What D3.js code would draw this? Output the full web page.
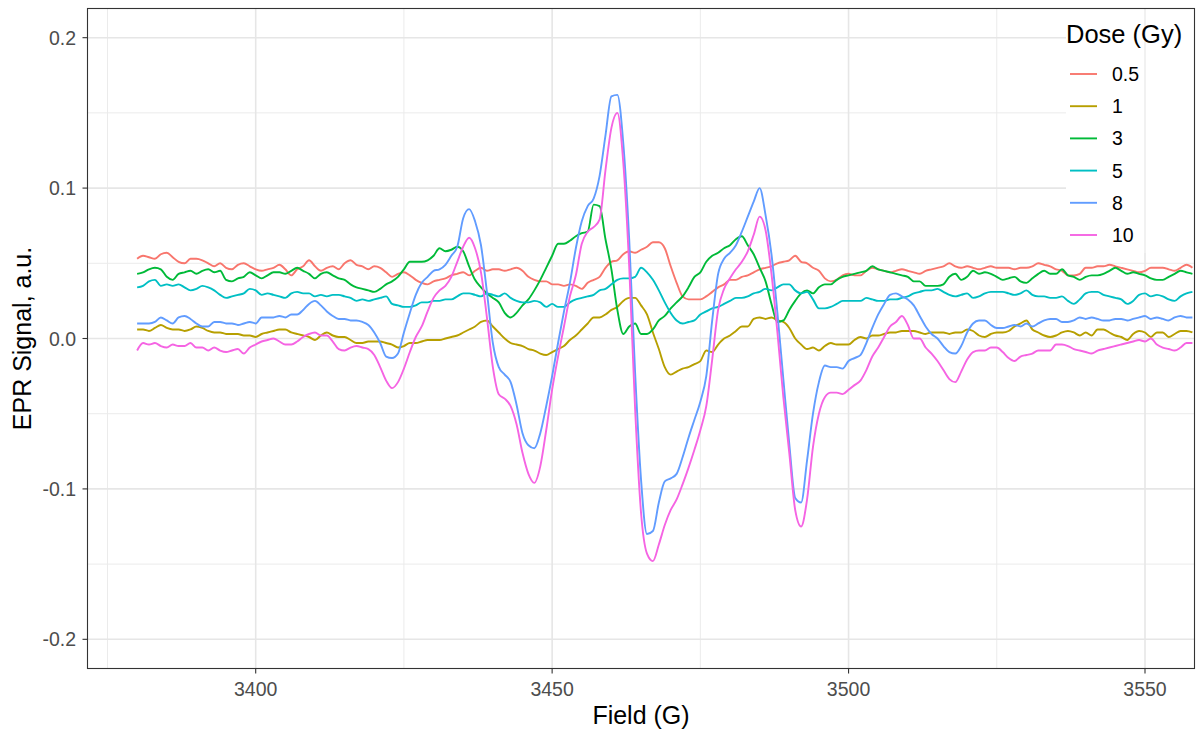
<!DOCTYPE html>
<html>
<head>
<meta charset="utf-8">
<script src="https://cdn.jsdelivr.net/npm/d3@7"></script>
<style>
  body { margin: 0; background: #fff; }
  text { font-family: "Liberation Sans", Arial, Helvetica, sans-serif; }
</style>
</head>
<body>
<svg id="chart" width="1198" height="729"></svg>
<script>
const width = 1198;
const height = 729;

// field grid, 1 G steps
const field = d3.range(3380, 3559);

// EPR signal per dose
const dose05 = [
  .053,.055,.054,.053,.056,.057,.054,.051,.050,.053,
  .053,.052,.050,.048,.050,.047,.046,.049,.050,.048,
  .046,.045,.046,.047,.049,.046,.042,.046,.048,.052,
  .048,.045,.047,.048,.046,.050,.052,.049,.048,.046,
  .048,.047,.044,.041,.043,.044,.042,.039,.037,.036,
  .038,.039,.040,.042,.043,.044,.042,.045,.047,.045,
  .046,.046,.045,.046,.047,.045,.041,.039,.038,.038,
  .036,.036,.035,.036,.035,.033,.037,.039,.041,.047,
  .051,.052,.056,.058,.057,.059,.061,.064,.064,.060,
  .048,.037,.028,.026,.026,.026,.028,.031,.034,.036,
  .039,.039,.041,.042,.044,.046,.047,.048,.050,.051,
  .052,.055,.051,.050,.047,.045,.040,.038,.039,.042,
  .043,.042,.042,.045,.047,.046,.045,.044,.045,.046,
  .045,.044,.043,.045,.046,.047,.048,.050,.048,.047,
  .048,.047,.046,.047,.048,.047,.047,.047,.046,.047,
  .047,.048,.050,.049,.048,.046,.045,.042,.042,.043,
  .047,.047,.048,.048,.049,.048,.047,.046,.045,.044,
  .045,.047,.047,.047,.046,.045,.047,.049,.047
];
const dose1 = [
  .006,.006,.005,.007,.009,.007,.006,.006,.005,.006,
  .008,.007,.005,.004,.004,.003,.003,.003,.002,.002,
  .001,.003,.004,.005,.006,.006,.004,.003,.002,.001,
  -.001,.002,.004,.002,.001,.001,-.001,-.003,-.003,-.002,
  -.002,-.002,-.003,-.004,-.006,-.005,-.003,-.003,-.002,-.001,
  -.001,-.001,.000,.001,.002,.004,.006,.008,.011,.012,
  .008,.004,.000,-.003,-.004,-.005,-.007,-.008,-.010,-.011,
  -.009,-.007,-.005,-.001,.002,.006,.010,.014,.014,.016,
  .019,.021,.025,.027,.027,.022,.016,.004,-.007,-.019,
  -.024,-.022,-.020,-.019,-.017,-.015,-.008,-.009,-.004,.000,
  .002,.005,.008,.008,.013,.014,.013,.014,.012,.011,
  .007,.000,-.004,-.007,-.006,-.008,-.005,-.003,-.004,-.004,
  -.004,-.001,.001,.000,.002,.002,.003,.004,.004,.005,
  .005,.005,.004,.003,.004,.004,.004,.003,.004,.004,
  .006,.005,.002,.001,.003,.004,.004,.005,.008,.010,
  .012,.006,.004,.002,.001,.002,.004,.005,.004,.002,
  .004,.002,.006,.006,.004,.002,.001,-.001,.003,.005,
  .004,.001,.004,.004,.001,.003,.005,.005,.004
];
const dose3 = [
  .043,.044,.046,.047,.046,.041,.039,.043,.044,.045,
  .043,.045,.046,.044,.045,.039,.038,.040,.041,.044,
  .042,.040,.042,.044,.044,.043,.045,.047,.045,.043,
  .040,.043,.044,.042,.040,.039,.036,.034,.033,.032,
  .031,.033,.036,.038,.041,.046,.051,.051,.051,.052,
  .055,.060,.058,.059,.061,.058,.048,.039,.034,.030,
  .027,.024,.017,.014,.017,.022,.026,.032,.039,.047,
  .055,.063,.063,.065,.068,.070,.071,.089,.088,.066,
  .046,.019,.003,.008,.010,.003,.003,.006,.012,.015,
  .020,.024,.028,.034,.041,.044,.051,.055,.057,.060,
  .062,.066,.068,.062,.056,.047,.038,.023,.011,.012,
  .019,.025,.030,.032,.030,.034,.036,.036,.039,.041,
  .042,.043,.044,.045,.048,.046,.045,.044,.043,.042,
  .041,.038,.038,.035,.035,.035,.036,.041,.043,.039,
  .041,.045,.043,.044,.043,.041,.039,.040,.041,.038,
  .037,.040,.043,.045,.043,.043,.046,.042,.041,.039,
  .041,.042,.042,.043,.045,.047,.045,.043,.044,.043,
  .042,.040,.039,.039,.041,.043,.045,.044,.043
];
const dose5 = [
  .034,.035,.038,.039,.035,.036,.035,.036,.034,.032,
  .033,.035,.034,.032,.029,.027,.028,.029,.030,.033,
  .032,.029,.030,.029,.028,.027,.030,.031,.030,.030,
  .028,.029,.028,.029,.029,.028,.027,.025,.026,.025,
  .026,.027,.028,.023,.022,.021,.021,.022,.024,.024,
  .025,.025,.026,.026,.028,.030,.030,.029,.028,.030,
  .029,.028,.030,.027,.025,.024,.024,.025,.024,.021,
  .023,.021,.021,.024,.026,.027,.028,.029,.032,.033,
  .036,.039,.040,.040,.041,.047,.044,.039,.032,.024,
  .017,.012,.010,.011,.012,.016,.018,.020,.021,.023,
  .025,.027,.027,.028,.030,.031,.033,.032,.034,.036,
  .036,.032,.030,.031,.026,.020,.020,.021,.023,.025,
  .025,.025,.025,.027,.026,.025,.025,.026,.026,.027,
  .028,.030,.031,.032,.032,.033,.031,.029,.028,.029,
  .030,.027,.028,.030,.031,.031,.031,.030,.029,.030,
  .032,.029,.028,.028,.027,.027,.028,.025,.023,.026,
  .030,.031,.031,.029,.028,.027,.026,.023,.025,.029,
  .030,.028,.029,.028,.026,.025,.028,.030,.031
];
const dose8 = [
  .010,.010,.010,.011,.014,.012,.010,.014,.015,.013,
  .010,.008,.008,.011,.011,.010,.010,.009,.010,.011,
  .010,.014,.014,.014,.015,.014,.016,.016,.019,.023,
  .025,.022,.018,.015,.013,.013,.012,.012,.011,.009,
  .004,-.003,-.012,-.013,-.010,.004,.017,.029,.037,.041,
  .045,.046,.049,.055,.061,.080,.086,.078,.062,.031,
  -.003,-.019,-.024,-.029,-.044,-.063,-.071,-.073,-.063,-.045,
  -.025,-.003,.018,.037,.060,.078,.088,.093,.108,.135,
  .161,.162,.130,.066,-.023,-.094,-.130,-.128,-.109,-.095,
  -.093,-.090,-.079,-.066,-.054,-.042,-.025,.012,.043,.053,
  .057,.062,.071,.081,.091,.100,.082,.056,.017,-.027,
  -.070,-.106,-.109,-.081,-.050,-.029,-.018,-.019,-.019,-.020,
  -.015,-.013,-.011,-.003,.007,.016,.023,.029,.030,.028,
  .026,.022,.015,.008,.003,.000,-.005,-.009,-.010,-.005,
  .004,.010,.012,.012,.009,.007,.007,.008,.009,.008,
  .010,.008,.010,.012,.013,.013,.011,.011,.012,.014,
  .013,.014,.013,.012,.012,.013,.013,.012,.013,.014,
  .015,.013,.014,.013,.012,.014,.015,.014,.014
];
const dose10 = [
  -.008,-.003,-.004,-.003,-.005,-.006,-.004,-.005,-.005,-.003,
  -.006,-.006,-.008,-.006,-.008,-.009,-.008,-.007,-.010,-.006,
  -.004,-.002,-.001,.000,-.002,-.004,-.004,-.002,.001,.003,
  .004,.002,.002,-.002,-.007,-.008,-.006,-.005,-.006,-.007,
  -.011,-.019,-.028,-.033,-.029,-.020,-.009,.001,.008,.018,
  .027,.032,.035,.041,.051,.061,.067,.060,.044,.014,
  -.019,-.037,-.040,-.045,-.057,-.076,-.090,-.096,-.085,-.061,
  -.034,-.012,.008,.028,.042,.063,.071,.074,.079,.112,
  .140,.150,.117,.048,-.047,-.116,-.143,-.148,-.137,-.124,
  -.114,-.107,-.097,-.086,-.074,-.061,-.045,-.014,.019,.033,
  .040,.046,.051,.058,.069,.081,.072,.043,.004,-.039,
  -.076,-.114,-.125,-.107,-.072,-.050,-.039,-.036,-.036,-.037,
  -.034,-.031,-.028,-.021,-.012,-.006,.001,.008,.011,.015,
  .009,.000,.000,-.006,-.010,-.015,-.021,-.027,-.029,-.022,
  -.014,-.009,-.008,-.008,-.006,-.006,-.009,-.013,-.015,-.012,
  -.011,-.010,-.008,-.008,-.008,-.004,-.004,-.005,-.007,-.008,
  -.009,-.010,-.008,-.007,-.006,-.005,-.004,-.003,-.002,-.001,
  -.002,.000,-.004,-.006,-.007,-.008,-.006,-.003,-.003
];

const doseLabels = ["0.5", "1", "3", "5", "8", "10"];
const doseColors = ["#F8766D", "#B79F00", "#00BA38", "#00BFC4", "#619CFF", "#F564E3"];
const series = [dose05, dose1, dose3, dose5, dose8, dose10];

const xTicks = [3400, 3450, 3500, 3550];
const xMinor = [3375, 3425, 3475, 3525];
const yTicks = [-0.2, -0.1, 0, 0.1, 0.2];
const yMinor = [-0.15, -0.05, 0.05, 0.15];

// panel box
const panelL = 87.5, panelR = 1194.5, panelT = 8.5, panelB = 668.5;

const x = d3.scaleLinear().domain([3371.63, 3558.35]).range([panelL, panelR]);
const y = d3.scaleLinear().domain([-0.2194, 0.2194]).range([panelB, panelT]);

const svg = d3.select("#chart");

svg.append("rect")
    .attr("width", width)
    .attr("height", height)
    .attr("fill", "#fff");

// grid
const grid = svg.append("g");
grid.selectAll(".xminor").data(xMinor).enter().append("line")
    .attr("x1", d => x(d)).attr("x2", d => x(d))
    .attr("y1", panelT).attr("y2", panelB)
    .attr("stroke", "#EBEBEB").attr("stroke-width", 1);
grid.selectAll(".yminor").data(yMinor).enter().append("line")
    .attr("x1", panelL).attr("x2", panelR)
    .attr("y1", d => y(d)).attr("y2", d => y(d))
    .attr("stroke", "#EBEBEB").attr("stroke-width", 1);
grid.selectAll(".xmajor").data(xTicks).enter().append("line")
    .attr("x1", d => x(d)).attr("x2", d => x(d))
    .attr("y1", panelT).attr("y2", panelB)
    .attr("stroke", "#E6E6E6").attr("stroke-width", 1.6);
grid.selectAll(".ymajor").data(yTicks).enter().append("line")
    .attr("x1", panelL).attr("x2", panelR)
    .attr("y1", d => y(d)).attr("y2", d => y(d))
    .attr("stroke", "#E6E6E6").attr("stroke-width", 1.6);

// lines
svg.append("clipPath").attr("id", "panel")
  .append("rect")
    .attr("x", panelL).attr("y", panelT)
    .attr("width", panelR - panelL).attr("height", panelB - panelT);

const line = d3.line()
    .x((d, i) => x(field[i]))
    .y(d => y(d))
    .curve(d3.curveMonotoneX);

svg.append("g")
    .attr("clip-path", "url(#panel)")
  .selectAll("path")
  .data(series)
  .enter()
  .append("path")
    .attr("d", line)
    .attr("fill", "none")
    .attr("stroke", (d, i) => doseColors[i])
    .attr("stroke-width", 1.9)
    .attr("stroke-linejoin", "round");

// legend (sits inside the panel, top right)
const legend = svg.append("g");
legend.append("rect")
    .attr("x", 1066).attr("y", panelT + 1)
    .attr("width", panelR - 1066).attr("height", 243)
    .attr("fill", "#fff");
legend.append("line")
    .attr("x1", x(3550)).attr("x2", x(3550))
    .attr("y1", panelT).attr("y2", panelT + 244)
    .attr("stroke", "#EBEBEB").attr("stroke-width", 1.4);
legend.append("text")
    .attr("x", 1066)
    .attr("y", 43)
    .attr("font-size", "25.5px")
    .attr("fill", "#000")
    .text("Dose (Gy)");

const rows = legend.selectAll(".key")
    .data(doseLabels)
    .enter()
    .append("g")
    .attr("transform", (d, i) => `translate(0, ${74 + i * 32.2})`);
rows.append("line")
    .attr("x1", 1070).attr("x2", 1097)
    .attr("stroke", (d, i) => doseColors[i])
    .attr("stroke-width", 1.9);
rows.append("text")
    .attr("x", 1112)
    .attr("y", 7)
    .attr("font-size", "19.5px")
    .attr("fill", "#000")
    .text(d => d);

// panel border
svg.append("rect")
    .attr("x", panelL).attr("y", panelT)
    .attr("width", panelR - panelL).attr("height", panelB - panelT)
    .attr("fill", "none")
    .attr("stroke", "#333")
    .attr("stroke-width", 1.1);

// ticks and labels
svg.selectAll(".xtick").data(xTicks).enter().append("line")
    .attr("x1", d => x(d)).attr("x2", d => x(d))
    .attr("y1", panelB).attr("y2", panelB + 5)
    .attr("stroke", "#333").attr("stroke-width", 1.1);
svg.selectAll(".xlab").data(xTicks).enter().append("text")
    .attr("x", d => x(d))
    .attr("y", 696)
    .attr("text-anchor", "middle")
    .attr("font-size", "19.5px")
    .attr("fill", "#4D4D4D")
    .text(d => d);

svg.selectAll(".ytick").data(yTicks).enter().append("line")
    .attr("x1", panelL - 5).attr("x2", panelL)
    .attr("y1", d => y(d)).attr("y2", d => y(d))
    .attr("stroke", "#333").attr("stroke-width", 1.1);
svg.selectAll(".ylab").data(yTicks).enter().append("text")
    .attr("x", 76)
    .attr("y", d => y(d) + 7)
    .attr("text-anchor", "end")
    .attr("font-size", "19.5px")
    .attr("fill", "#4D4D4D")
    .text(d => d.toFixed(1));

// axis titles
svg.append("text")
    .attr("x", (panelL + panelR) / 2)
    .attr("y", 724)
    .attr("text-anchor", "middle")
    .attr("font-size", "25px")
    .attr("fill", "#000")
    .text("Field (G)");

svg.append("text")
    .attr("transform", `translate(31, ${(panelT + panelB) / 2}) rotate(-90)`)
    .attr("text-anchor", "middle")
    .attr("font-size", "25px")
    .attr("fill", "#000")
    .text("EPR Signal, a.u.");
</script>
</body>
</html>
